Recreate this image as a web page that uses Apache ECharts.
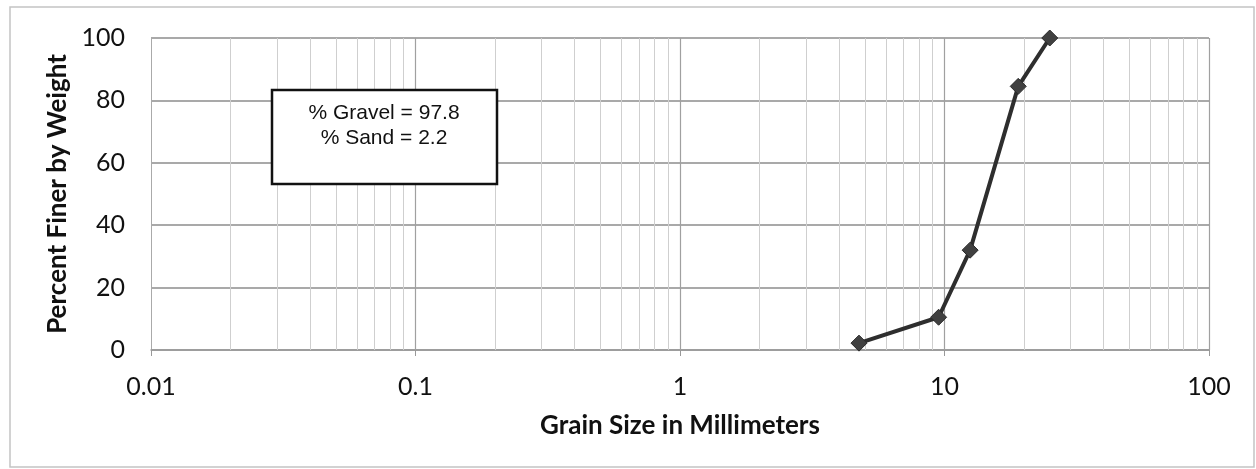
<!DOCTYPE html>
<html>
<head>
<meta charset="utf-8">
<script src="https://cdn.jsdelivr.net/npm/echarts@6/dist/echarts.min.js"></script>
<style>
html,body{margin:0;padding:0;background:#fff;}
#chart{width:1256px;height:469px;}
</style>
</head>
<body>
<div id="chart"></div>
<script>
// Data
const grainSize = [4.75, 9.5, 12.5, 19, 25];
const percentFiner = [2.2, 10.5, 32, 84.5, 100];
const xTickLabels = ['0.01', '0.1', '1', '10', '100'];
const yTicks = [0, 20, 40, 60, 80, 100];
const annotationLines = ['% Gravel = 97.8', '% Sand = 2.2'];

// minor log gridline values (2..9 in each decade)
const decades = [0.01, 0.1, 1, 10];
const minorVals = [];
decades.forEach(d => { for (let k = 2; k <= 9; k++) minorVals.push(+(d * k).toPrecision(3)); });
const majorVals = [0.1, 1, 10, 100];

const chart = echarts.init(document.getElementById('chart'));
const labelFont = 'Lato';
chart.setOption({
  animation: false,
  backgroundColor: '#fff',
  grid: { left: 151, right: 47, top: 38, bottom: 119 },
  xAxis: {
    type: 'log', logBase: 10, min: 0.01, max: 100,
    name: 'Grain Size in Millimeters', nameLocation: 'middle', nameGap: 63,
    nameTextStyle: { fontFamily: labelFont, fontWeight: 'bold', fontSize: 26, color: '#111' },
    axisLine: { show: true, lineStyle: { color: '#999', width: 1.5 } },
    axisTick: { show: true, length: 6, lineStyle: { color: '#999' } },
    axisLabel: { fontFamily: labelFont, fontSize: 25, color: '#111', margin: 24,
      formatter: v => { const s = String(+v.toPrecision(3)); return xTickLabels.includes(s) ? s : ''; } },
    splitLine: { show: false }
  },
  yAxis: {
    type: 'value', min: 0, max: 100, interval: 20,
    name: 'Percent Finer by Weight', nameLocation: 'middle', nameGap: 77,
    nameTextStyle: { fontFamily: labelFont, fontWeight: 'bold', fontSize: 26, color: '#111' },
    axisLine: { show: true, lineStyle: { color: '#aaa', width: 1 } },
    axisTick: { show: false },
    axisLabel: { fontFamily: labelFont, fontSize: 25, color: '#111', margin: 26,
      formatter: v => yTicks.includes(v) ? String(v) : '' },
    splitLine: { show: true, lineStyle: { color: '#8c8c8c', width: 1.5 } }
  },
  series: [
    {
      type: 'line', silent: true, symbol: 'none', data: [],
      markLine: {
        silent: true, symbol: 'none', label: { show: false },
        lineStyle: { color: '#cfcfcf', width: 1, type: 'solid' },
        data: minorVals.map(v => ({ xAxis: v }))
      }
    },
    {
      type: 'line', silent: true, symbol: 'none', data: [],
      markLine: {
        silent: true, symbol: 'none', label: { show: false },
        lineStyle: { color: '#a0a0a0', width: 1.2, type: 'solid' },
        data: majorVals.map(v => ({ xAxis: v }))
      }
    },
    {
      type: 'line',
      data: grainSize.map((g, i) => [g, percentFiner[i]]),
      symbol: 'diamond', symbolSize: 16,
      lineStyle: { color: '#2e2e2e', width: 4 },
      itemStyle: { color: '#404040', borderColor: '#2a2a2a', borderWidth: 1 },
      z: 5
    }
  ],
  graphic: [
    { type: 'rect', shape: { x: 10, y: 7, width: 1244, height: 460 },
      style: { fill: 'none', stroke: '#c4c4c4', lineWidth: 1.5 }, z: 0, silent: true },
    { type: 'rect', shape: { x: 272, y: 90, width: 225, height: 94 },
      style: { fill: '#fff', stroke: '#111', lineWidth: 2.5 }, z: 10 },
    { type: 'text', x: 384, y: 113, z: 11,
      style: { text: annotationLines[0], font: '21px "Liberation Sans", Arial, sans-serif', fill: '#111', textAlign: 'center', textVerticalAlign: 'middle' } },
    { type: 'text', x: 384, y: 138, z: 11,
      style: { text: annotationLines[1], font: '21px "Liberation Sans", Arial, sans-serif', fill: '#111', textAlign: 'center', textVerticalAlign: 'middle' } }
  ]
});
</script>
</body>
</html>
